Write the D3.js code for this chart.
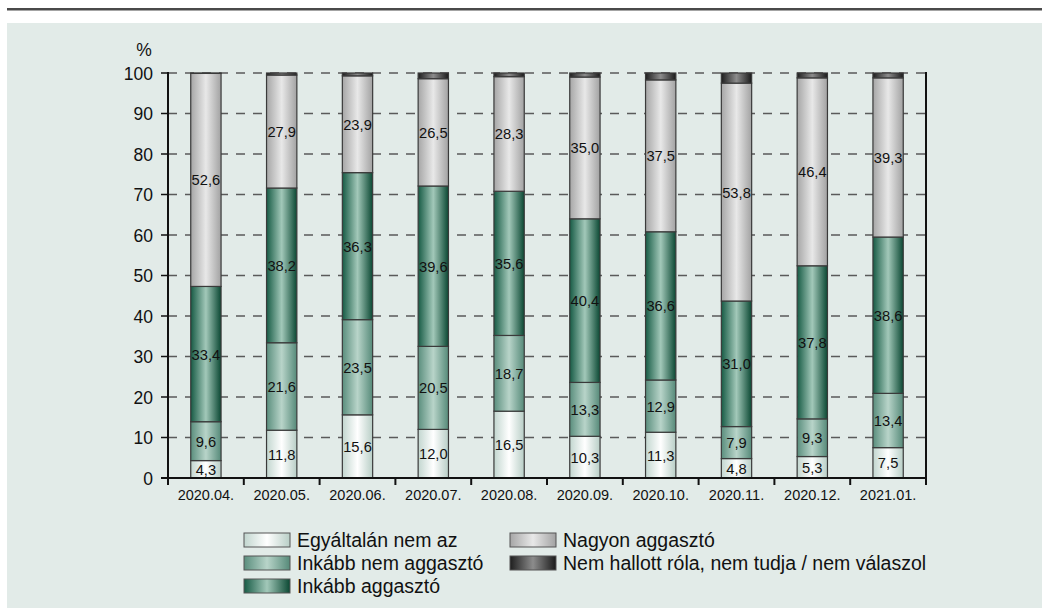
<!DOCTYPE html>
<html>
<head>
<meta charset="utf-8">
<script src="https://cdn.jsdelivr.net/npm/d3@7"></script>
<style>
  html, body { margin: 0; padding: 0; background: #ffffff; }
  svg { display: block; }
  text { font-family: "Liberation Sans", Arial, Helvetica, sans-serif; fill: #111; }
</style>
</head>
<body>
<svg id="chart" width="1042" height="608"></svg>
<script>
// Survey months
const months = ["2020.04.", "2020.05.", "2020.06.", "2020.07.", "2020.08.",
                "2020.09.", "2020.10.", "2020.11.", "2020.12.", "2021.01."];

// Share of answers (%), stacked bottom to top
const egyaltalanNem   = [4.3, 11.8, 15.6, 12.0, 16.5, 10.3, 11.3, 4.8, 5.3, 7.5];
const inkabbNem       = [9.6, 21.6, 23.5, 20.5, 18.7, 13.3, 12.9, 7.9, 9.3, 13.4];
const inkabbAggaszto  = [33.4, 38.2, 36.3, 39.6, 35.6, 40.4, 36.6, 31.0, 37.8, 38.6];
const nagyonAggaszto  = [52.6, 27.9, 23.9, 26.5, 28.3, 35.0, 37.5, 53.8, 46.4, 39.3];
const nemHallott      = [0.1, 0.5, 0.7, 1.4, 0.9, 1.0, 1.7, 2.5, 1.2, 1.2];

const seriesNames = ["Egyáltalán nem az", "Inkább nem aggasztó", "Inkább aggasztó",
                     "Nagyon aggasztó", "Nem hallott róla, nem tudja / nem válaszol"];
const seriesValues = [egyaltalanNem, inkabbNem, inkabbAggaszto, nagyonAggaszto, nemHallott];
const yTicks = [0, 10, 20, 30, 40, 50, 60, 70, 80, 90, 100];

// Cylinder-like horizontal shading for each series: [edge, highlight, far edge]
const shades = [
  ["#c2d6cf", "#ffffff", "#b8cec6"],
  ["#5a8e7d", "#b8d4c9", "#568a79"],
  ["#175b45", "#a2c8b9", "#0b4833"],
  ["#a6a6a6", "#e8e8e8", "#a2a2a2"],
  ["#1e1e1e", "#8c8c8c", "#1a1a1a"]
];

const svg = d3.select("#chart");

// page furniture: rule and tinted panel
svg.append("rect").attr("x", 7).attr("y", 8).attr("width", 1035).attr("height", 2.5).attr("fill", "#4a4a4a");
svg.append("rect").attr("x", 7).attr("y", 23).attr("width", 1035).attr("height", 585).attr("fill", "#e2ebe8");

const defs = svg.append("defs");
shades.forEach((s, i) => {
  const g = defs.append("linearGradient").attr("id", "grad" + i)
    .attr("x1", "0").attr("x2", "1").attr("y1", "0").attr("y2", "0");
  g.append("stop").attr("offset", "0").attr("stop-color", s[0]);
  g.append("stop").attr("offset", "0.5").attr("stop-color", s[1]);
  g.append("stop").attr("offset", "1").attr("stop-color", s[2]);
});

const plotLeft = 168, plotRight = 926, plotTop = 73, plotBottom = 478;

const x = d3.scaleBand().domain(months).range([plotLeft, plotRight])
  .paddingInner(0.6).paddingOuter(0.3);
const y = d3.scaleLinear().domain([0, 100]).range([plotBottom, plotTop]);

// dashed horizontal grid
svg.append("g").selectAll("line").data(yTicks.filter(d => d > 0)).join("line")
  .attr("x1", plotLeft).attr("x2", plotRight)
  .attr("y1", d => y(d)).attr("y2", d => y(d))
  .attr("stroke", "#5a5a5a").attr("stroke-width", 1.5)
  .attr("stroke-dasharray", "9,8");

// stacked data
const rows = months.map((m, i) => {
  const r = { month: m };
  seriesValues.forEach((arr, k) => r["s" + k] = arr[i]);
  return r;
});
const keys = seriesValues.map((_, k) => "s" + k);
const stacked = d3.stack().keys(keys)(rows);

const layers = svg.append("g").selectAll("g").data(stacked).join("g")
  .attr("fill", (d, i) => `url(#grad${i})`);

layers.selectAll("rect").data(d => d).join("rect")
  .attr("x", d => x(d.data.month))
  .attr("width", x.bandwidth())
  .attr("y", d => y(d[1]))
  .attr("height", d => y(d[0]) - y(d[1]))
  .attr("stroke", "#3a3a3a").attr("stroke-width", 1.2);

// value labels for the four main answers
stacked.slice(0, 4).forEach((layer, k) => {
  svg.append("g").selectAll("text").data(layer).join("text")
    .attr("transform", d => `translate(${x(d.data.month) + x.bandwidth() / 2},${(y(d[0]) + y(d[1])) / 2 + 5.5}) scale(0.95,1)`)
    .attr("text-anchor", "middle")
    .style("font-size", "15.5px")
    .text(d => d3.format(".1f")(seriesValues[k][months.indexOf(d.data.month)]).replace(".", ","));
});

// axes
const axisColor = "#111";
svg.append("line").attr("x1", plotLeft).attr("x2", plotLeft).attr("y1", plotTop - 1).attr("y2", plotBottom + 1)
  .attr("stroke", axisColor).attr("stroke-width", 2);
svg.append("line").attr("x1", plotRight).attr("x2", plotRight).attr("y1", plotTop - 1).attr("y2", plotBottom + 7)
  .attr("stroke", axisColor).attr("stroke-width", 2);
svg.append("line").attr("x1", plotLeft - 7).attr("x2", plotRight + 1).attr("y1", plotBottom).attr("y2", plotBottom)
  .attr("stroke", axisColor).attr("stroke-width", 2);

// y ticks and labels
const yAxis = svg.append("g");
yAxis.selectAll("line").data(yTicks).join("line")
  .attr("x1", plotLeft - 7).attr("x2", plotLeft)
  .attr("y1", d => y(d)).attr("y2", d => y(d))
  .attr("stroke", axisColor).attr("stroke-width", 1.5);
yAxis.selectAll("text").data(yTicks).join("text")
  .attr("x", plotLeft - 15).attr("y", d => y(d) + 6.5)
  .attr("text-anchor", "end")
  .style("font-size", "17.5px")
  .text(d => d);
svg.append("text").attr("x", 144).attr("y", 56).attr("text-anchor", "middle")
  .style("font-size", "17.5px").text("%");

// x category boundaries and labels
const bounds = months.map((m, i) => plotLeft + i * x.step()).concat([plotRight]);
svg.append("g").selectAll("line").data(bounds).join("line")
  .attr("x1", d => d).attr("x2", d => d)
  .attr("y1", plotBottom).attr("y2", plotBottom + 7)
  .attr("stroke", axisColor).attr("stroke-width", 2);
svg.append("g").selectAll("text").data(months).join("text")
  .attr("x", d => x(d) + x.bandwidth() / 2).attr("y", 500)
  .attr("text-anchor", "middle")
  .style("font-size", "14.5px")
  .text(d => d);

// legend: two columns
const legendItems = [
  { i: 0, col: 0, row: 0 }, { i: 1, col: 0, row: 1 }, { i: 2, col: 0, row: 2 },
  { i: 3, col: 1, row: 0 }, { i: 4, col: 1, row: 1 }
];
const colX = [244, 510];
const legend = svg.append("g").selectAll("g").data(legendItems).join("g")
  .attr("transform", d => `translate(${colX[d.col]},${533 + d.row * 23})`);
legend.append("rect")
  .attr("width", 46).attr("height", 14)
  .attr("fill", d => `url(#grad${d.i})`)
  .attr("stroke", "#555").attr("stroke-width", 1);
legend.append("text")
  .attr("x", 53).attr("y", 14)
  .style("font-size", "19.5px")
  .text(d => seriesNames[d.i]);
</script>
</body>
</html>
